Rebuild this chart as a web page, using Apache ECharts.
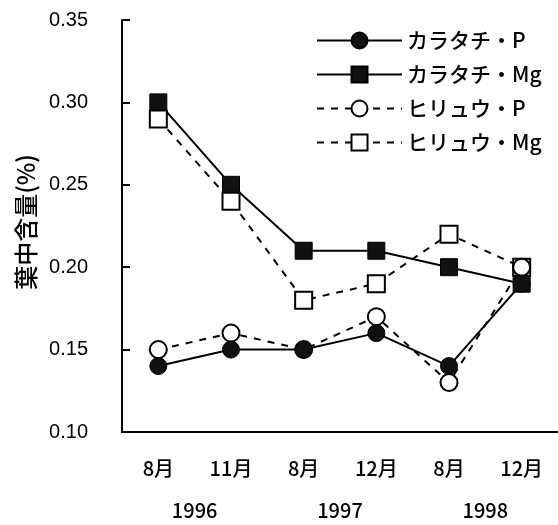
<!DOCTYPE html>
<html>
<head>
<meta charset="utf-8">
<script src="https://cdn.jsdelivr.net/npm/echarts@6/dist/echarts.min.js"></script>
<style>
html,body{margin:0;padding:0;background:#fff;}
#chart{width:558px;height:525px;}
</style>
</head>
<body>
<div id="chart"></div>
<script>
var months = ['8月', '11月', '8月', '12月', '8月', '12月'];
var years = ['1996', '1997', '1998'];
var yTicks = [0.10, 0.15, 0.20, 0.25, 0.30, 0.35];
var karatachiP = [0.14, 0.15, 0.15, 0.16, 0.14, 0.19];
var karatachiMg = [0.30, 0.25, 0.21, 0.21, 0.20, 0.19];
var hiryuP = [0.15, 0.16, 0.15, 0.17, 0.13, 0.20];
var hiryuMg = [0.29, 0.24, 0.18, 0.19, 0.22, 0.20];
var names = ['カラタチ・P', 'カラタチ・Mg', 'ヒリュウ・P', 'ヒリュウ・Mg'];

var chart = echarts.init(document.getElementById('chart'));
var cjk = '"Noto Sans CJK JP", sans-serif';
var num = '"Liberation Sans", Arial, sans-serif';

function mk(name, data, symbol, filled, dashed) {
  return {
    name: name,
    type: 'line',
    data: data,
    symbol: symbol,
    symbolSize: 17,
    showAllSymbol: true,
    animation: false,
    lineStyle: { color: '#000', width: 2, type: dashed ? [7, 7] : 'solid' },
    itemStyle: { color: filled ? '#111' : '#fff', borderColor: '#000', borderWidth: filled ? 1 : 2 }
  };
}

chart.setOption({
  backgroundColor: '#fff',
  animation: false,
  grid: { left: 122, right: -4, top: 20, bottom: 93 },
  legend: {
    data: names,
    orient: 'vertical',
    left: 311,
    top: 25,
    itemWidth: 85,
    itemHeight: 20,
    itemGap: 13,
    textStyle: { fontFamily: cjk, fontSize: 21, fontWeight: 500, color: '#000' }
  },
  xAxis: [{
    type: 'category',
    data: months,
    axisLine: { lineStyle: { color: '#000', width: 2 } },
    axisTick: { show: false },
    axisLabel: { margin: 26, fontFamily: cjk, fontSize: 20, fontWeight: 500, color: '#000' }
  }, {
    type: 'category',
    data: years,
    position: 'bottom',
    offset: 0,
    axisLine: { show: false },
    axisTick: { show: false },
    axisLabel: { margin: 68, fontFamily: cjk, fontSize: 20, fontWeight: 500, color: '#000' }
  }],
  yAxis: {
    type: 'value',
    min: yTicks[0],
    max: yTicks[yTicks.length - 1],
    interval: 0.05,
    name: '葉中含量(%)',
    nameLocation: 'middle',
    nameGap: 82,
    nameTextStyle: { fontFamily: cjk, fontSize: 24, fontWeight: 500, color: '#000', padding: [0, 0, 0, 8] },
    axisLine: { show: true, lineStyle: { color: '#000', width: 2 } },
    axisTick: { show: true, inside: true, length: 8, lineStyle: { color: '#000', width: 2 } },
    splitLine: { show: false },
    axisLabel: {
      margin: 34, fontFamily: num, fontSize: 20, color: '#000',
      formatter: function (v) { return v.toFixed(2); }
    }
  },
  series: [
    mk(names[1], karatachiMg, 'rect', true, false),
    mk(names[3], hiryuMg, 'rect', false, true),
    mk(names[2], hiryuP, 'circle', false, true),
    mk(names[0], karatachiP, 'circle', true, false)
  ]
});
</script>
</body>
</html>
